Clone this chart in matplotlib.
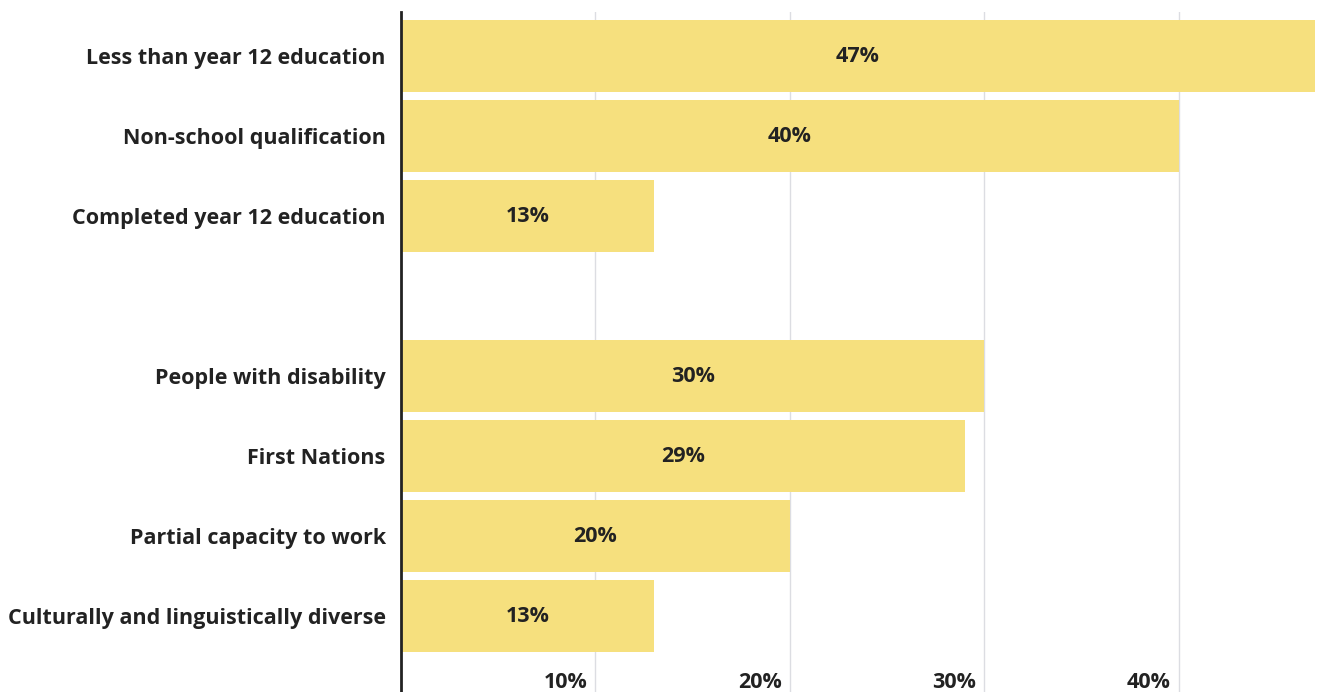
import matplotlib.pyplot as plt

plt.rcParams['font.family'] = ['Open Sans', 'DejaVu Sans']

# Share of group (%), blank entry is the spacer row between the two groups
categories = ['Less than year 12 education', 'Non-school qualification',
              'Completed year 12 education', '',
              'People with disability', 'First Nations',
              'Partial capacity to work', 'Culturally and linguistically diverse']
values = [47, 40, 13, None, 30, 29, 20, 13]
xticks = [10, 20, 30, 40]

BAR_COLOR = '#F6E07E'
TEXT_COLOR = '#222222'
GRID_COLOR = '#DCDDE2'
FS = 15.5


def plot_bars():
    fig = plt.figure(figsize=(13.24, 6.92), dpi=100)
    ax = fig.add_axes([401 / 1324, 0, 916 / 1324, 1 - 12 / 692])

    for i, (cat, val) in enumerate(zip(categories, values)):
        if val is None:
            continue
        ax.barh(i, val, height=0.9, color=BAR_COLOR, zorder=2)
        ax.text(val / 2, i, f'{val}%', ha='center', va='center',
                fontsize=FS, fontweight='bold', color=TEXT_COLOR, zorder=3)

    ax.set_xlim(0, 47.1)
    ax.set_ylim(7.95, -0.55)

    ax.set_yticks(range(len(categories)))
    ax.set_yticklabels(categories, fontsize=FS, fontweight='bold',
                       color=TEXT_COLOR)
    ax.tick_params(axis='y', length=0, pad=11)

    ax.set_xticks(xticks)
    ax.set_xticklabels([])
    ax.tick_params(axis='x', length=0)
    ax.grid(axis='x', color=GRID_COLOR, linewidth=1, zorder=0)
    ax.grid(axis='y', visible=False)

    # x tick labels sit inside the plot, right-aligned to each gridline
    for t in xticks:
        ax.annotate(f'{t}%', xy=(t, 0), xycoords=('data', 'axes fraction'),
                    xytext=(-8, -1), textcoords='offset pixels',
                    ha='right', va='bottom', fontsize=FS, fontweight='bold',
                    color=TEXT_COLOR)

    for side in ['top', 'right', 'bottom']:
        ax.spines[side].set_visible(False)
    ax.spines['left'].set_color(TEXT_COLOR)
    ax.spines['left'].set_linewidth(2)
    ax.spines['left'].set_zorder(4)

    fig.savefig('out.png', dpi=100)


if __name__ == '__main__':
    plot_bars()
